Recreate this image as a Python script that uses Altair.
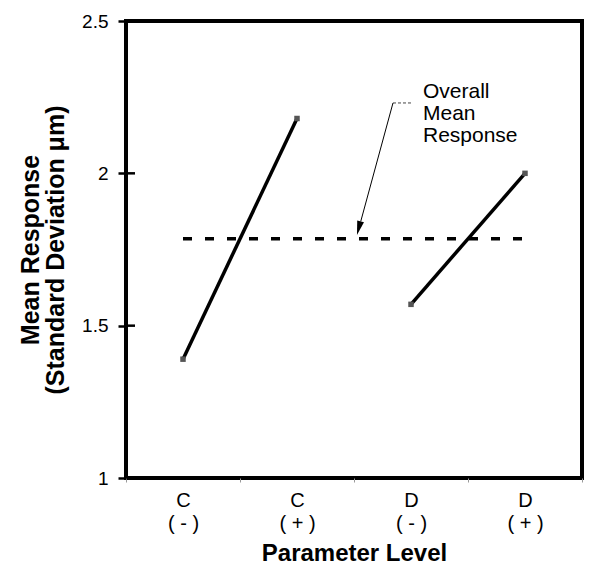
import altair as alt
import pandas as pd

FONT = "Liberation Sans"

# ---- data ----
categories = ["C|( - )", "C|( + )", "D|( - )", "D|( + )"]
factors = ["C", "C", "D", "D"]
mean_response = [1.39, 2.18, 1.57, 2.00]
overall_mean = [1.785]
y_ticks = [1.0, 1.5, 2.0, 2.5]

# annotation positions (x in category units 0..4, y in data units)
mean_line_x = [0.5]
mean_line_x2 = [3.52]
leader_h_x = [2.342]
leader_h_x2 = [2.51]
leader_h_y = [2.231]
leader_d_x = [2.342, 2.059]
leader_d_y = [2.231, 1.842]
arrow_x = [2.042]
arrow_y = [1.820]
note_lines = ["Overall", "Mean", "Response"]
note_x = [2.605]
note_y = [2.248]

df = pd.DataFrame({"cat": categories, "factor": factors, "value": mean_response})

ydef = alt.Y(
    "value:Q",
    scale=alt.Scale(domain=[1, 2.5], nice=False, zero=False),
    axis=alt.Axis(
        values=y_ticks, format=".1~f",
        title=["Mean Response", "(Standard Deviation \u03bcm)"],
        titleFontSize=25, titleFontWeight="bold", titleColor="black",
        titleLineHeight=25, titlePadding=13,
        labelFontSize=19, labelColor="black", labelPadding=10,
        tickSize=8, tickWidth=2.5, tickColor="black",
        domain=False, grid=False,
    ),
)

xband = alt.X(
    "cat:N", sort=categories, bandPosition=0.5,
    scale=alt.Scale(type="band", paddingInner=0, paddingOuter=0),
    axis=alt.Axis(
        title="Parameter Level", labelExpr="split(datum.label, '|')",
        labelAngle=0, tickBand="extent", tickSize=4, tickColor="#999",
        tickWidth=1, labelFontSize=20, labelLineHeight=23, labelPadding=8,
        labelColor="black", domain=False, grid=False,
        titleFontSize=24, titleFontWeight="bold", titleColor="black",
        titlePadding=8,
    ),
)

def xq(field):
    return alt.X(f"{field}:Q", scale=alt.Scale(domain=[0, 4], nice=False, zero=False), axis=None)

base = alt.Chart(df)
lines = base.mark_line(color="black", strokeWidth=3.5).encode(x=xband, y=ydef, detail="factor:N")
points = base.mark_point(shape="square", filled=True, size=30, color="#555", opacity=1).encode(x=xband, y=ydef)
main = alt.layer(lines, points)

mean_df = pd.DataFrame({"px": mean_line_x, "px2": mean_line_x2, "value": overall_mean})
mean_rule = alt.Chart(mean_df).mark_rule(color="black", strokeWidth=3.5, strokeDash=[9, 13]).encode(
    x=xq("px"), x2="px2:Q", y=ydef)

lh_df = pd.DataFrame({"px": leader_h_x, "px2": leader_h_x2, "value": leader_h_y})
leader_h = alt.Chart(lh_df).mark_rule(color="#444", strokeWidth=1, strokeDash=[3, 2]).encode(
    x=xq("px"), x2="px2:Q", y=ydef)

ld_df = pd.DataFrame({"px": leader_d_x, "value": leader_d_y, "i": [0, 1]})
leader_d = alt.Chart(ld_df).mark_line(color="black", strokeWidth=1).encode(
    x=xq("px"), y=ydef, order="i:O")

ar_df = pd.DataFrame({"px": arrow_x, "value": arrow_y})
arrow = alt.Chart(ar_df).mark_point(
    shape="M0,-1L0.5,1L-0.5,1Z", filled=True, color="black", size=196, angle=195, opacity=1
).encode(x=xq("px"), y=ydef)

note_df = pd.DataFrame({"px": note_x, "value": note_y, "t": ["\n".join(note_lines)]})
note = alt.Chart(note_df).mark_text(
    align="left", baseline="alphabetic", fontSize=21, font=FONT, lineHeight=22,
    lineBreak="\n", color="black"
).encode(x=xq("px"), y=ydef, text="t:N")

tk_df = pd.DataFrame({"value": y_ticks[1:3]})
inner_ticks = alt.Chart(tk_df).mark_rule(color="black", strokeWidth=2.5).encode(
    y=ydef, x=alt.value(0), x2=alt.value(9))

annot = alt.layer(mean_rule, leader_h, leader_d, arrow, note, inner_ticks)

chart = alt.layer(main, annot).resolve_scale(x="independent").properties(
    width=456, height=457,
    autosize=alt.AutoSizeParams(type="none"),
    padding={"left": 126, "top": 21, "right": 8, "bottom": 97},
    background="white",
).configure_view(stroke="black", strokeWidth=4).configure_axis(
    labelFont=FONT, titleFont=FONT
).configure_text(font=FONT)

chart.save("out.html", embed_options={"renderer": "svg", "actions": False})
